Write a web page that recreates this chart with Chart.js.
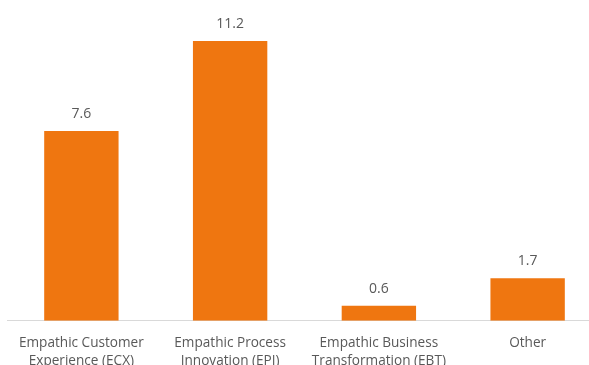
<!DOCTYPE html>
<html>
<head>
<meta charset="utf-8">
<script src="https://cdn.jsdelivr.net/npm/chart.js@4"></script>
<style>
    html, body { margin: 0; padding: 0; background: #fff; overflow: hidden; }
    #wrap { position: absolute; left: 0; top: 0; width: 602px; height: 383px; }
</style>
</head>
<body>
<div id="wrap"><canvas id="chart" width="602" height="383"></canvas></div>
<script>
// Chart data
const categories = [
    ['Empathic Customer', 'Experience (ECX)'],
    ['Empathic Process', 'Innovation (EPI)'],
    ['Empathic Business', 'Transformation (EBT)'],
    'Other'
];
const values = [7.6, 11.2, 0.6, 1.7];

const barColor = '#EF7610';
const textColor = '#595959';

// Draw the value above each bar
const valueLabels = {
    id: 'valueLabels',
    afterDatasetsDraw(chart) {
        const ctx = chart.ctx;
        const meta = chart.getDatasetMeta(0);
        ctx.save();
        ctx.font = '14px "Open Sans", sans-serif';
        ctx.fillStyle = textColor;
        ctx.textAlign = 'center';
        ctx.textBaseline = 'middle';
        meta.data.forEach((bar, i) => {
            ctx.fillText(values[i].toFixed(1), bar.x, bar.y - 17);
        });
        ctx.restore();
    }
};

new Chart(document.getElementById('chart').getContext('2d'), {
    type: 'bar',
    data: {
        labels: categories,
        datasets: [{
            data: values,
            backgroundColor: barColor,
            borderWidth: 0,
            barPercentage: 0.5,
            categoryPercentage: 1
        }]
    },
    options: {
        responsive: false,
        animation: false,
        layout: { padding: { left: 7, top: 21, right: 0, bottom: 0 } },
        plugins: { legend: { display: false }, tooltip: { enabled: false } },
        scales: {
            x: {
                grid: { display: false, drawTicks: false },
                border: { display: true, color: '#d9d9d9', width: 1 },
                ticks: {
                    color: textColor,
                    font: { family: '"Open Sans", sans-serif', size: 13.6, lineHeight: 1.33 },
                    padding: 13,
                    maxRotation: 0,
                    autoSkip: false
                }
            },
            y: {
                display: false,
                min: 0,
                max: 12
            }
        }
    },
    plugins: [valueLabels]
});
</script>
</body>
</html>
